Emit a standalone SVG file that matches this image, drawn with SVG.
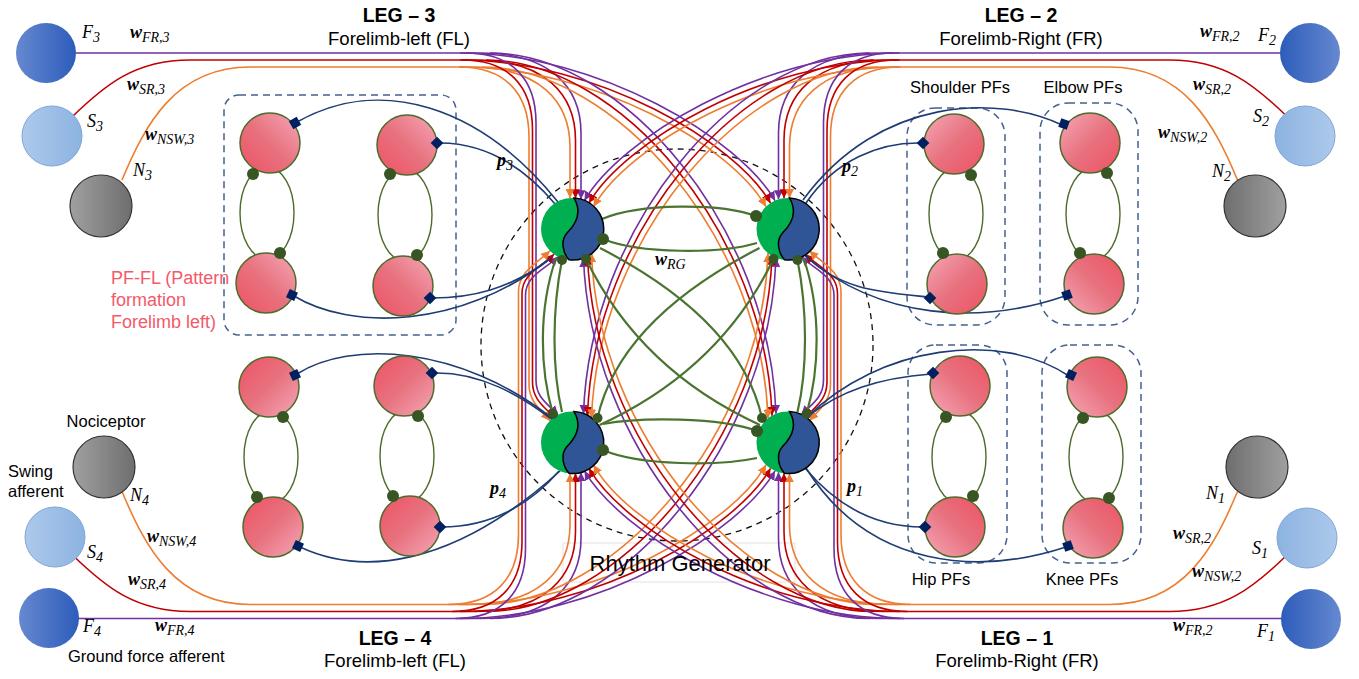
<svg xmlns="http://www.w3.org/2000/svg" xmlns:xlink="http://www.w3.org/1999/xlink" width="1359" height="679" viewBox="0 0 1359 679">
<style>
.cp{fill:none;stroke:#7030a0;stroke-width:1.6}
.cr{fill:none;stroke:#c00000;stroke-width:1.6}
.co{fill:none;stroke:#ed7d31;stroke-width:1.6}
.bl{fill:none;stroke:#1f3c74;stroke-width:1.6}
.gr{fill:none;stroke:#4a7430;stroke-width:2.2}
.lp{fill:none;stroke:#4e6b2c;stroke-width:1.4}
.dt{fill:#375623}
.dm{fill:#002060}
.pf{stroke:#4e6b2c;stroke-width:1.5}
.box{fill:none;stroke:#44618f;stroke-width:1.5;stroke-dasharray:7 5}
.ring{fill:none;stroke:#111;stroke-width:1.3;stroke-dasharray:6 5}
.t{font-family:"Liberation Sans",Arial,sans-serif;fill:#000}
.hd{font-size:19.5px;font-weight:bold;text-anchor:middle}
.sb{font-size:18.5px;text-anchor:middle}
.lb{font-size:16.5px}
.mid{text-anchor:middle}
.m{font-family:"Liberation Serif","Times New Roman",serif;font-style:italic;font-size:18px;fill:#000}
.b{font-weight:bold}
.s{font-size:14px}
.pfl{font-family:"Liberation Sans",Arial,sans-serif;font-size:18px;fill:#f25a6a}
</style>
<defs>
<marker id="mp" viewBox="0 0 10 10" refX="10" refY="5" markerWidth="9" markerHeight="9" markerUnits="userSpaceOnUse" orient="auto"><path d="M0,0 L10,5 L0,10 z" fill="#7030a0"/></marker>
<marker id="mr" viewBox="0 0 10 10" refX="10" refY="5" markerWidth="9" markerHeight="9" markerUnits="userSpaceOnUse" orient="auto"><path d="M0,0 L10,5 L0,10 z" fill="#c00000"/></marker>
<marker id="mo" viewBox="0 0 10 10" refX="10" refY="5" markerWidth="9" markerHeight="9" markerUnits="userSpaceOnUse" orient="auto"><path d="M0,0 L10,5 L0,10 z" fill="#ed7d31"/></marker>
<linearGradient id="pkA" x1="0" y1="1" x2="1" y2="0"><stop offset="0" stop-color="#ee5264"/><stop offset="0.5" stop-color="#e8727f"/><stop offset="1" stop-color="#f5a8b8"/></linearGradient>
<linearGradient id="pkB" x1="0" y1="0" x2="1" y2="1"><stop offset="0" stop-color="#f5a8b8"/><stop offset="0.5" stop-color="#e8727f"/><stop offset="1" stop-color="#ee5264"/></linearGradient>
<linearGradient id="pkC" x1="0" y1="0" x2="1" y2="1"><stop offset="0" stop-color="#ee5264"/><stop offset="0.5" stop-color="#e8727f"/><stop offset="1" stop-color="#f5a8b8"/></linearGradient>
<linearGradient id="pkD" x1="0" y1="1" x2="1" y2="0"><stop offset="0" stop-color="#f5a8b8"/><stop offset="0.5" stop-color="#e8727f"/><stop offset="1" stop-color="#ee5264"/></linearGradient>
<linearGradient id="fL" x1="0" y1="0" x2="1" y2="0"><stop offset="0" stop-color="#6689d0"/><stop offset="1" stop-color="#2d5cba"/></linearGradient>
<linearGradient id="fR" x1="0" y1="0" x2="1" y2="0"><stop offset="0" stop-color="#2d5cba"/><stop offset="1" stop-color="#6689d0"/></linearGradient>
<linearGradient id="sL" x1="0" y1="0" x2="1" y2="0"><stop offset="0" stop-color="#adc9eb"/><stop offset="1" stop-color="#8cb3e1"/></linearGradient>
<linearGradient id="sR" x1="0" y1="0" x2="1" y2="0"><stop offset="0" stop-color="#8cb3e1"/><stop offset="1" stop-color="#adc9eb"/></linearGradient>
<linearGradient id="nL" x1="0" y1="0" x2="1" y2="0"><stop offset="0" stop-color="#a0a0a0"/><stop offset="1" stop-color="#6e6e6e"/></linearGradient>
<linearGradient id="nR" x1="0" y1="0" x2="1" y2="0"><stop offset="0" stop-color="#6e6e6e"/><stop offset="1" stop-color="#a0a0a0"/></linearGradient>
<g id="rgShape">
<circle r="31" fill="#00b050"/>
<path d="M2,-30.9 A31,31 0 1 1 -3,30.85 C-9,24 -12,12 -5,4 C2,-3 11,-16 2,-30.9 Z" fill="#2f5597" stroke="#000" stroke-width="1.5"/>
</g>
<g id="core">
<path class="cp" d="M76,53 L481,53"/>
<path class="cr" d="M73,116 C105,85 135,60 190,60 L476,60"/>
<path class="co" d="M122,180 C145,125 175,67 250,67 L470,67"/>
<path class="cp" marker-end="url(#mp)" d="M481,53 C551,53 581,88 581,133 L581,199.3"/>
<path class="cr" marker-end="url(#mr)" d="M475.5,60 C545.5,60 575.5,95 575.5,140 L575.5,198.2"/>
<path class="co" marker-end="url(#mo)" d="M470,67 C540,67 570,102 570,147 L570,198.1"/>
<path class="cp" marker-end="url(#mp)" d="M460,53 C600,53 740,140 775,200.6"/>
<path class="cr" marker-end="url(#mr)" d="M460,60 C598,60 736,143 770.5,203.1"/>
<path class="co" marker-end="url(#mo)" d="M460,67 C596,67 732,146 766,206.7"/>
<path class="cp" marker-end="url(#mp)" d="M490,53 C625,53 770,230 776,413.7"/>
<path class="cr" marker-end="url(#mr)" d="M486,60 C620,60 766,234 772,415.7"/>
<path class="co" marker-end="url(#mo)" d="M482,67 C615,67 762,238 768,418.4"/>
</g>
<g id="aTop">
<path class="cp" marker-end="url(#mp)" d="M466,53 C511,53 536,78 536,123 L536,380 C536,398 548,404 558,414.8"/>
<path class="cr" marker-end="url(#mr)" d="M462.5,60 C507.5,60 532.5,85 532.5,130 L532.5,382 C532.5,400 545,407 554,417.3"/>
<path class="co" marker-end="url(#mo)" d="M459,67 C504,67 529,92 529,137 L529,384 C529,402 541,410 550,420.7"/>
</g>
<g id="aBot">
<path class="cp" marker-end="url(#mp)" d="M455.5,53 C500.5,53 525.5,78 525.5,123 L525.5,376 C525.5,396 545,402 558,414.8"/>
<path class="cr" marker-end="url(#mr)" d="M452,60 C497,60 522,85 522,130 L522,378 C522,398 542,405 554,417.3"/>
<path class="co" marker-end="url(#mo)" d="M448.5,67 C493.5,67 518.5,92 518.5,137 L518.5,380 C518.5,400 538,409 550,420.7"/>
</g>
</defs>
<rect width="1359" height="679" fill="#fff"/>

<g id="pf-boxes">
<rect class="box" x="224" y="95" width="232" height="240" rx="15"/>
<rect class="box" x="907" y="108" width="98" height="217" rx="28"/>
<rect class="box" x="1040" y="103" width="98" height="222" rx="28"/>
<rect class="box" x="908" y="345" width="99" height="218" rx="28"/>
<rect class="box" x="1042" y="345" width="99" height="218" rx="28"/>
</g>
<g id="rhythm-generator-ring">
<circle class="ring" cx="677" cy="345" r="196"/>
<rect x="563" y="543" width="232" height="39" fill="none" stroke="#e2e2e2" stroke-width="1"/>
</g>

<g id="connectors">
<use xlink:href="#core" href="#core"/>
<use xlink:href="#aTop" href="#aTop"/>
<use xlink:href="#core" href="#core" transform="matrix(-1 0 0 1 1359.5 0)"/>
<use xlink:href="#aTop" href="#aTop" transform="matrix(-1 0 0 1 1359.5 0)"/>
<use xlink:href="#core" href="#core" transform="matrix(1 0 0 -1 0 671.5)"/>
<use xlink:href="#aBot" href="#aBot" transform="matrix(1 0 0 -1 0 671.5)"/>
<use xlink:href="#core" href="#core" transform="matrix(-1 0 0 -1 1359.5 671.5)"/>
<use xlink:href="#aBot" href="#aBot" transform="matrix(-1 0 0 -1 1359.5 671.5)"/>
<ellipse class="lp" cx="267" cy="213" rx="27" ry="46"/>
<ellipse class="lp" cx="405" cy="215" rx="27" ry="46"/>
<ellipse class="lp" cx="271" cy="457" rx="27" ry="46"/>
<ellipse class="lp" cx="407" cy="456" rx="27" ry="46"/>
<ellipse class="lp" cx="956" cy="214" rx="27" ry="46"/>
<ellipse class="lp" cx="1093" cy="214" rx="27" ry="46"/>
<ellipse class="lp" cx="959" cy="457" rx="27" ry="46"/>
<ellipse class="lp" cx="1096" cy="457" rx="27" ry="46"/>
<path class="bl" d="M297,122 C380,75 480,105 558,202"/>
<path class="bl" d="M437,143 C480,142 520,162 556,205"/>
<path class="bl" d="M294,296 C350,330 460,330 551,258"/>
<path class="bl" d="M432,298 C470,298 510,290 551,258"/>
<path class="bl" d="M297,374 C350,340 460,345 553,419"/>
<path class="bl" d="M434,373 C480,372 520,395 554,421"/>
<path class="bl" d="M300,547 C360,575 450,570 560,471"/>
<path class="bl" d="M442,527 C490,527 530,505 559,471"/>
<path class="bl" d="M921,143 C880,142 835,160 806,203"/>
<path class="bl" d="M1062,125 C1000,95 880,95 803,200"/>
<path class="bl" d="M928,297 C880,292 840,290 805,255"/>
<path class="bl" d="M1065,296 C980,325 880,320 805,256"/>
<path class="bl" d="M931,374 C880,378 840,390 806,418"/>
<path class="bl" d="M1069,376 C1000,330 880,345 806,418"/>
<path class="bl" d="M923,527 C880,527 840,510 805,468"/>
<path class="bl" d="M1066,547 C980,575 870,570 806,468"/>
<path class="gr" d="M602,219 C640,203 720,203 756,216"/>
<path class="gr" d="M757,243 C720,254 640,254 603,239"/>
<path class="gr" d="M603,424 C640,417 720,417 757,431"/>
<path class="gr" d="M757,458 C720,466 640,466 603,450"/>
<path class="gr" d="M556,258 C538,310 540,370 553,414"/>
<path class="gr" d="M562,412 C552,370 552,310 562,260"/>
<path class="gr" d="M803.5,258 C821.5,310 819.5,370 806.5,414"/>
<path class="gr" d="M797.5,412 C807.5,370 807.5,310 797.5,260"/>
<path class="gr" d="M600,248 Q740,320 762,418"/>
<path class="gr" d="M586,259 Q640,370 760,425"/>
<path class="gr" d="M759.5,248 Q619.5,320 597.5,418"/>
<path class="gr" d="M773.5,259 Q719.5,370 599.5,425"/>
</g>

<g id="pf-nodes">
<g id="pf-fl-1"><circle class="pf" cx="270" cy="143" r="30" fill="url(#pkA)"/></g>
<g id="pf-fl-2"><circle class="pf" cx="407" cy="145" r="30" fill="url(#pkA)"/></g>
<g id="pf-fl-3"><circle class="pf" cx="266" cy="283" r="30" fill="url(#pkA)"/></g>
<g id="pf-fl-4"><circle class="pf" cx="403" cy="286" r="30" fill="url(#pkA)"/></g>
<g id="pf-hl-1"><circle class="pf" cx="269" cy="387" r="30" fill="url(#pkC)"/></g>
<g id="pf-hl-2"><circle class="pf" cx="404" cy="386" r="30" fill="url(#pkC)"/></g>
<g id="pf-hl-3"><circle class="pf" cx="273" cy="527" r="30" fill="url(#pkC)"/></g>
<g id="pf-hl-4"><circle class="pf" cx="410" cy="526" r="30" fill="url(#pkC)"/></g>
<g id="pf-shoulder-1"><circle class="pf" cx="954" cy="144" r="30" fill="url(#pkB)"/></g>
<g id="pf-elbow-1"><circle class="pf" cx="1090" cy="143" r="30" fill="url(#pkB)"/></g>
<g id="pf-shoulder-2"><circle class="pf" cx="957" cy="284" r="30" fill="url(#pkB)"/></g>
<g id="pf-elbow-2"><circle class="pf" cx="1094" cy="284" r="30" fill="url(#pkD)"/></g>
<g id="pf-hip-1"><circle class="pf" cx="960" cy="386" r="30" fill="url(#pkD)"/></g>
<g id="pf-knee-1"><circle class="pf" cx="1097" cy="387" r="30" fill="url(#pkD)"/></g>
<g id="pf-hip-2"><circle class="pf" cx="955" cy="527" r="30" fill="url(#pkD)"/></g>
<g id="pf-knee-2"><circle class="pf" cx="1093" cy="528" r="30" fill="url(#pkD)"/></g>
</g>

<g id="rg-nodes">
<g id="rg-leg3"><use xlink:href="#rgShape" href="#rgShape" x="572" y="229"/></g>
<g id="rg-leg2"><use xlink:href="#rgShape" href="#rgShape" x="787.5" y="229"/></g>
<g id="rg-leg4"><use xlink:href="#rgShape" href="#rgShape" x="572" y="442.5"/></g>
<g id="rg-leg1"><use xlink:href="#rgShape" href="#rgShape" x="787.5" y="442.5"/></g>
</g>

<g id="sensory-nodes">
<g id="F3"><circle cx="46" cy="53" r="30" fill="url(#fL)"/></g>
<g id="S3"><circle cx="52" cy="136" r="30" fill="url(#sL)" stroke="#7ea6d8" stroke-width="1"/></g>
<g id="N3"><circle cx="101" cy="206" r="31" fill="url(#nL)" stroke="#333" stroke-width="1.2"/></g>
<g id="F2"><circle cx="1310" cy="53" r="30" fill="url(#fR)"/></g>
<g id="S2"><circle cx="1305" cy="136" r="30" fill="url(#sR)" stroke="#7ea6d8" stroke-width="1"/></g>
<g id="N2"><circle cx="1255" cy="206" r="31" fill="url(#nR)" stroke="#333" stroke-width="1.2"/></g>
<g id="N4"><circle cx="104" cy="467" r="31" fill="url(#nL)" stroke="#333" stroke-width="1.2"/></g>
<g id="S4"><circle cx="55" cy="537" r="30" fill="url(#sL)" stroke="#7ea6d8" stroke-width="1"/></g>
<g id="F4"><circle cx="49" cy="618" r="30" fill="url(#fL)"/></g>
<g id="N1"><circle cx="1257" cy="467" r="31" fill="url(#nR)" stroke="#333" stroke-width="1.2"/></g>
<g id="S1"><circle cx="1307" cy="538" r="30" fill="url(#sR)" stroke="#7ea6d8" stroke-width="1"/></g>
<g id="F1"><circle cx="1311" cy="619" r="30" fill="url(#fR)"/></g>
</g>

<g id="connector-terminals">
<circle class="dt" cx="253" cy="174" r="6"/><circle class="dt" cx="280" cy="253" r="6"/>
<circle class="dt" cx="390" cy="174" r="6"/><circle class="dt" cx="417" cy="255" r="6"/>
<circle class="dt" cx="283" cy="417" r="6"/><circle class="dt" cx="257" cy="497" r="6"/>
<circle class="dt" cx="418" cy="416" r="6"/><circle class="dt" cx="393" cy="496" r="6"/>
<circle class="dt" cx="971" cy="175" r="6"/><circle class="dt" cx="943" cy="253" r="6"/>
<circle class="dt" cx="1107" cy="173" r="6"/><circle class="dt" cx="1080" cy="253" r="6"/>
<circle class="dt" cx="946" cy="417" r="6"/><circle class="dt" cx="973" cy="496" r="6"/>
<circle class="dt" cx="1083" cy="418" r="6"/><circle class="dt" cx="1109" cy="498" r="6"/>
<circle class="dt" cx="756" cy="216" r="6"/><circle class="dt" cx="603" cy="239" r="6"/>
<circle class="dt" cx="757" cy="431" r="6"/><circle class="dt" cx="603" cy="450" r="6"/>
<circle class="dt" cx="553" cy="414" r="5"/><circle class="dt" cx="562" cy="260" r="5"/>
<circle class="dt" cx="806.5" cy="414" r="5"/><circle class="dt" cx="797.5" cy="260" r="5"/>
<circle class="dt" cx="762" cy="418" r="5"/><circle class="dt" cx="586" cy="259" r="5"/>
<circle class="dt" cx="597.5" cy="418" r="5"/><circle class="dt" cx="773.5" cy="259" r="5"/>
<rect class="dm" x="-4.5" y="-4.5" width="9" height="9" transform="translate(295,123) rotate(60)"/>
<rect class="dm" x="-4.5" y="-4.5" width="9" height="9" transform="translate(437,143) rotate(45)"/>
<rect class="dm" x="-4.5" y="-4.5" width="9" height="9" transform="translate(292,295) rotate(25)"/>
<rect class="dm" x="-4.5" y="-4.5" width="9" height="9" transform="translate(430,298) rotate(45)"/>
<rect class="dm" x="-4.5" y="-4.5" width="9" height="9" transform="translate(295,375) rotate(-25)"/>
<rect class="dm" x="-4.5" y="-4.5" width="9" height="9" transform="translate(432,373) rotate(45)"/>
<rect class="dm" x="-4.5" y="-4.5" width="9" height="9" transform="translate(298,546) rotate(25)"/>
<rect class="dm" x="-4.5" y="-4.5" width="9" height="9" transform="translate(440,527) rotate(45)"/>
<rect class="dm" x="-4.5" y="-4.5" width="9" height="9" transform="translate(923,143) rotate(45)"/>
<rect class="dm" x="-4.5" y="-4.5" width="9" height="9" transform="translate(1064,124) rotate(20)"/>
<rect class="dm" x="-4.5" y="-4.5" width="9" height="9" transform="translate(930,298) rotate(45)"/>
<rect class="dm" x="-4.5" y="-4.5" width="9" height="9" transform="translate(1067,295) rotate(-20)"/>
<rect class="dm" x="-4.5" y="-4.5" width="9" height="9" transform="translate(933,373) rotate(45)"/>
<rect class="dm" x="-4.5" y="-4.5" width="9" height="9" transform="translate(1071,375) rotate(25)"/>
<rect class="dm" x="-4.5" y="-4.5" width="9" height="9" transform="translate(925,527) rotate(45)"/>
<rect class="dm" x="-4.5" y="-4.5" width="9" height="9" transform="translate(1068,546) rotate(-20)"/>
</g>

<g id="labels">
<text class="t hd" x="399" y="22">LEG – 3</text>
<text class="t sb" x="399" y="45">Forelimb-left (FL)</text>
<text class="t hd" x="1021" y="22">LEG – 2</text>
<text class="t sb" x="1021" y="45">Forelimb-Right (FR)</text>
<text class="t hd" x="395" y="645">LEG – 4</text>
<text class="t sb" x="395" y="667">Forelimb-left (FL)</text>
<text class="t hd" x="1017" y="645">LEG – 1</text>
<text class="t sb" x="1017" y="667">Forelimb-Right (FR)</text>
<text class="t lb mid" x="960" y="93">Shoulder PFs</text>
<text class="t lb mid" x="1083" y="93">Elbow PFs</text>
<text class="t lb mid" x="941" y="585">Hip PFs</text>
<text class="t lb mid" x="1082" y="585">Knee PFs</text>
<text class="t lb mid" x="106" y="427">Nociceptor</text>
<text class="t lb" x="8" y="477">Swing</text>
<text class="t lb" x="8" y="497">afferent</text>
<text class="t lb" x="68" y="662">Ground force afferent</text>
<text class="t mid" x="680" y="571" font-size="22">Rhythm Generator</text>
<text class="pfl" x="111" y="284">PF-FL (Pattern</text>
<text class="pfl" x="111" y="306">formation</text>
<text class="pfl" x="111" y="328">Forelimb left)</text>

<text class="m" x="82" y="38">F<tspan class="s" dy="4">3</tspan></text>
<text class="m" x="130" y="38"><tspan class="b">w</tspan><tspan class="s" dy="4">FR,3</tspan></text>
<text class="m" x="127" y="90"><tspan class="b">w</tspan><tspan class="s" dy="4">SR,3</tspan></text>
<text class="m" x="87" y="127">S<tspan class="s" dy="4">3</tspan></text>
<text class="m" x="145" y="140"><tspan class="b">w</tspan><tspan class="s" dy="4">NSW,3</tspan></text>
<text class="m" x="133" y="176">N<tspan class="s" dy="4">3</tspan></text>

<text class="m" x="1258" y="41">F<tspan class="s" dy="4">2</tspan></text>
<text class="m" x="1200" y="37"><tspan class="b">w</tspan><tspan class="s" dy="4">FR,2</tspan></text>
<text class="m" x="1193" y="90"><tspan class="b">w</tspan><tspan class="s" dy="4">SR,2</tspan></text>
<text class="m" x="1253" y="122">S<tspan class="s" dy="4">2</tspan></text>
<text class="m" x="1158" y="138"><tspan class="b">w</tspan><tspan class="s" dy="4">NSW,2</tspan></text>
<text class="m" x="1212" y="177">N<tspan class="s" dy="4">2</tspan></text>

<text class="m" x="130" y="501">N<tspan class="s" dy="4">4</tspan></text>
<text class="m" x="147" y="542"><tspan class="b">w</tspan><tspan class="s" dy="4">NSW,4</tspan></text>
<text class="m" x="87" y="558">S<tspan class="s" dy="4">4</tspan></text>
<text class="m" x="128" y="585"><tspan class="b">w</tspan><tspan class="s" dy="4">SR,4</tspan></text>
<text class="m" x="83" y="632">F<tspan class="s" dy="4">4</tspan></text>
<text class="m" x="155" y="631"><tspan class="b">w</tspan><tspan class="s" dy="4">FR,4</tspan></text>

<text class="m" x="1206" y="499">N<tspan class="s" dy="4">1</tspan></text>
<text class="m" x="1173" y="539"><tspan class="b">w</tspan><tspan class="s" dy="4">SR,2</tspan></text>
<text class="m" x="1252" y="554">S<tspan class="s" dy="4">1</tspan></text>
<text class="m" x="1192" y="577"><tspan class="b">w</tspan><tspan class="s" dy="4">NSW,2</tspan></text>
<text class="m" x="1173" y="631"><tspan class="b">w</tspan><tspan class="s" dy="4">FR,2</tspan></text>
<text class="m" x="1257" y="637">F<tspan class="s" dy="4">1</tspan></text>

<text class="m" x="497" y="166"><tspan class="b">p</tspan><tspan class="s" dy="4">3</tspan></text>
<text class="m" x="842" y="172"><tspan class="b">p</tspan><tspan class="s" dy="4">2</tspan></text>
<text class="m" x="490" y="494"><tspan class="b">p</tspan><tspan class="s" dy="4">4</tspan></text>
<text class="m" x="847" y="492"><tspan class="b">p</tspan><tspan class="s" dy="4">1</tspan></text>
<text class="m" x="655" y="265"><tspan class="b">w</tspan><tspan class="s" dy="4">RG</tspan></text>
</g>
</svg>
